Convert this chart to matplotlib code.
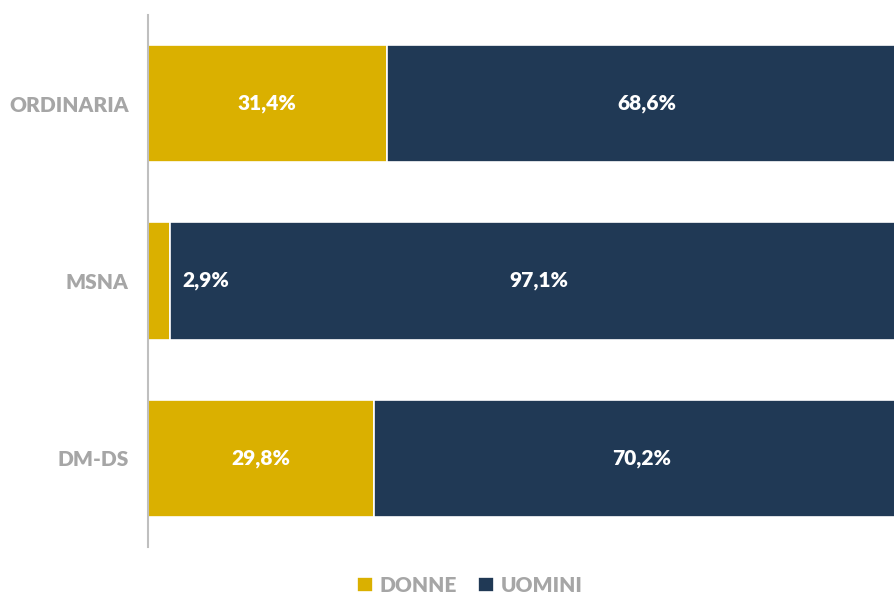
import matplotlib
matplotlib.use('agg')
import matplotlib.pyplot as plt

categories = ['ORDINARIA', 'MSNA', 'DM-DS']
donne = [31.4, 2.9, 29.8]
uomini = [68.6, 97.1, 70.2]
series_names = ['DONNE', 'UOMINI']

gold = '#DAB000'
navy = '#203955'
grey = '#A6A6A6'

plt.rcParams['font.family'] = ['Lato', 'DejaVu Sans']

fig = plt.figure(figsize=(8.95, 6.06), dpi=100)
ax = fig.add_axes([148 / 895, 1 - 547 / 606, 760 / 895, 532 / 606])

y = list(range(len(categories)))
b1 = ax.barh(y, donne, height=0.66, color=gold, edgecolor='white', linewidth=1.2, label=series_names[0])
b2 = ax.barh(y, uomini, left=donne, height=0.66, color=navy, edgecolor='white', linewidth=1.2, label=series_names[1])

for i, (d, u) in enumerate(zip(donne, uomini)):
    dl = f'{d:.1f}%'.replace('.', ',')
    ul = f'{u:.1f}%'.replace('.', ',')
    if d < 8:
        ax.text(d + 1.6, i, dl, ha='left', va='center', color='white', fontsize=15, fontweight='heavy')
    else:
        ax.text(d / 2, i, dl, ha='center', va='center', color='white', fontsize=15, fontweight='heavy')
    ax.text(d + u / 2, i, ul, ha='center', va='center', color='white', fontsize=15, fontweight='heavy')

ax.set_xlim(0, 100)
ax.set_ylim(len(categories) - 0.5, -0.5)
ax.set_yticks(y)
ax.set_yticklabels(categories, color=grey, fontsize=15, fontweight='heavy')
ax.tick_params(axis='y', length=0, pad=14)
ax.set_xticks([])
for s in ['top', 'right', 'bottom']:
    ax.spines[s].set_visible(False)
ax.spines['left'].set_color('#BFBFBF')
ax.spines['left'].set_linewidth(1.5)

leg = fig.legend(handles=[b1, b2], loc='lower center', bbox_to_anchor=(0.525, -0.012), ncol=2,
                 frameon=False, handlelength=0.75, handleheight=0.75, handletextpad=0.35,
                 columnspacing=1.0, prop={'size': 15, 'weight': 'heavy'})
for t in leg.get_texts():
    t.set_color(grey)

plt.savefig('out.png', dpi=100)
